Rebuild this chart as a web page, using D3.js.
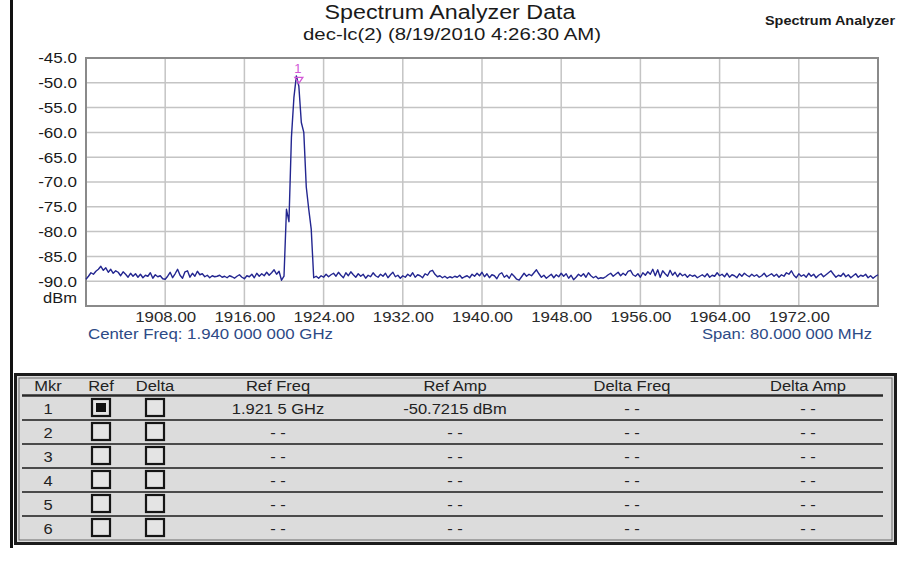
<!DOCTYPE html>
<html><head><meta charset="utf-8">
<script src="https://cdn.jsdelivr.net/npm/d3@7"></script>
<style>body{margin:0;background:#fff}svg{display:block;font-family:"Liberation Sans",Arial,sans-serif}</style>
</head><body><svg id="c" width="900" height="573"></svg>
<script>
// ---------- data ----------
const titleText = "Spectrum Analyzer Data";
const subtitleText = "dec-lc(2) (8/19/2010 4:26:30 AM)";
const cornerText = "Spectrum Analyzer";
const centerText = "Center Freq: 1.940 000 000 GHz";
const spanText = "Span: 80.000 000 MHz";
const unitText = "dBm";
const freqDomain = [1900, 1980];
const ampDomain = [-95, -45];
const freqStart = 1900, freqStep = 0.25;
const xTicks = [1908, 1916, 1924, 1932, 1940, 1948, 1956, 1964, 1972];
const yTicks = [-45, -50, -55, -60, -65, -70, -75, -80, -85, -90];
const amplitudes = [
 -89.6,-89.0,-88.3,-88.6,-88.0,-87.6,-87.0,-87.8,-87.3,-88.2,
 -87.6,-88.4,-87.9,-88.2,-88.9,-88.1,-88.6,-89.2,-88.4,-89.0,
 -88.5,-89.2,-88.6,-89.3,-88.8,-89.0,-88.3,-89.4,-88.7,-89.1,
 -88.9,-89.5,-89.6,-89.0,-88.2,-89.3,-88.5,-87.6,-88.8,-89.4,
 -88.1,-87.9,-89.2,-88.4,-89.0,-88.0,-88.7,-88.5,-89.1,-88.8,
 -89.3,-88.9,-89.1,-89.0,-88.8,-89.2,-89.0,-89.3,-88.9,-89.1,
 -89.4,-89.0,-88.7,-89.2,-89.5,-88.9,-89.1,-88.6,-89.3,-88.4,
 -89.0,-88.5,-88.9,-88.2,-88.8,-88.3,-87.7,-88.6,-88.0,-89.8,
 -89.0,-75.5,-78.0,-61.0,-53.0,-48.6,-50.7,-58.0,-60.0,-71.0,
 -75.5,-79.5,-89.3,-89.0,-89.4,-88.9,-89.2,-88.6,-89.1,-88.7,
 -88.4,-89.0,-88.2,-88.8,-89.3,-88.3,-88.9,-88.1,-88.7,-89.2,
 -88.5,-89.0,-88.6,-89.4,-88.8,-89.1,-88.3,-88.9,-89.2,-88.6,
 -89.0,-88.4,-89.3,-88.7,-88.2,-89.1,-88.8,-89.4,-88.9,-89.2,
 -88.6,-89.0,-88.3,-89.2,-88.7,-88.9,-89.3,-88.5,-88.8,-88.0,
 -87.8,-88.6,-89.1,-88.9,-89.3,-89.0,-89.4,-89.1,-89.3,-89.0,
 -89.2,-88.8,-89.4,-89.1,-88.9,-89.3,-88.6,-89.0,-88.4,-88.9,
 -88.2,-89.1,-88.5,-89.3,-88.7,-88.9,-89.5,-88.6,-88.3,-89.2,
 -88.8,-89.4,-88.5,-89.0,-89.6,-89.8,-89.1,-88.4,-89.0,-88.6,
 -88.9,-88.3,-87.7,-88.5,-89.2,-88.8,-89.4,-89.0,-88.6,-89.3,
 -88.7,-89.1,-88.4,-89.0,-88.5,-89.4,-88.8,-89.7,-89.2,-88.6,
 -89.0,-88.5,-89.2,-88.3,-88.9,-89.3,-89.0,-89.5,-89.3,-89.4,
 -89.1,-88.7,-88.4,-89.0,-88.6,-88.2,-88.9,-88.4,-88.8,-88.0,
 -87.8,-88.7,-89.0,-88.5,-89.2,-88.3,-88.8,-88.1,-88.6,-87.6,
 -88.9,-87.7,-89.2,-87.9,-88.5,-89.0,-87.8,-88.8,-88.2,-89.1,
 -88.4,-88.9,-88.6,-89.2,-88.7,-89.0,-88.8,-89.3,-89.0,-88.7,
 -89.1,-88.5,-89.2,-88.8,-89.0,-88.3,-88.9,-88.6,-89.1,-88.4,
 -89.2,-88.7,-88.9,-89.3,-88.5,-89.0,-88.4,-88.8,-89.1,-88.6,
 -89.0,-88.7,-89.2,-88.9,-88.4,-89.1,-88.8,-88.5,-89.0,-88.6,
 -89.2,-88.7,-89.0,-88.3,-88.6,-87.9,-88.8,-89.3,-88.5,-89.0,
 -88.7,-89.2,-88.4,-89.0,-88.6,-89.3,-88.8,-88.5,-89.1,-88.7,
 -88.3,-87.9,-88.6,-89.2,-88.8,-89.0,-88.4,-89.1,-88.7,-89.3,
 -88.9,-88.5,-89.2,-88.8,-89.0,-88.6,-89.3,-88.9,-89.4,-89.0,
 -88.7
];
const markerLabel = "1";
const markerFreq = 1921.5, markerAmp = -50.7215;
const tableHeaders = ["Mkr", "Ref", "Delta", "Ref Freq", "Ref Amp", "Delta Freq", "Delta Amp"];
const markerIds = ["1", "2", "3", "4", "5", "6"];
const refChecked = [true, false, false, false, false, false];
const deltaChecked = [false, false, false, false, false, false];
const refFreqs = ["1.921 5 GHz", "- -", "- -", "- -", "- -", "- -"];
const refAmps = ["-50.7215 dBm", "- -", "- -", "- -", "- -", "- -"];
const deltaFreqs = ["- -", "- -", "- -", "- -", "- -", "- -"];
const deltaAmps = ["- -", "- -", "- -", "- -", "- -", "- -"];

// ---------- drawing ----------
const svg = d3.select("#c");
const SX = 1.1; // horizontal stretch of the original screenshot
function stext(g, str, x, yy, opts) {
  const t = g.append("text")
    .attr("transform", `translate(${x},${yy}) scale(${opts.sx || SX},1)`)
    .attr("text-anchor", opts.anchor || "middle")
    .attr("font-size", opts.size || 15)
    .attr("fill", opts.fill || "#222")
    .text(str);
  if (opts.weight) t.attr("font-weight", opts.weight);
  if (opts.len) t.attr("textLength", opts.len / (opts.sx || SX)).attr("lengthAdjust", "spacingAndGlyphs");
  return t;
}

// window left border
svg.append("rect").attr("x", 10).attr("y", 0).attr("width", 3).attr("height", 548).attr("fill", "#111");

// titles
stext(svg, titleText, 450, 19, {size: 21, fill: "#1a1a1a", len: 251});
stext(svg, subtitleText, 452, 40, {size: 17, fill: "#1a1a1a", len: 298});
stext(svg, cornerText, 830, 25, {size: 12, fill: "#1a1a1a", len: 130, weight: "bold", sx: 1});

const x = d3.scaleLinear().domain(freqDomain).range([86, 878]);
const y = d3.scaleLinear().domain(ampDomain).range([306, 58]);

const plot = svg.append("g");
plot.append("rect").attr("x", 86).attr("y", 58).attr("width", 792).attr("height", 248).attr("fill", "#fff");
// grid
plot.selectAll("line.h").data(yTicks).join("line")
  .attr("x1", 86).attr("x2", 878).attr("y1", d => y(d)).attr("y2", d => y(d))
  .attr("stroke", "#c4c4c4").attr("stroke-width", 1.5);
plot.selectAll("line.v").data(xTicks).join("line")
  .attr("y1", 58).attr("y2", 306).attr("x1", d => x(d)).attr("x2", d => x(d))
  .attr("stroke", "#c4c4c4").attr("stroke-width", 1.5);
plot.append("rect").attr("x", 86).attr("y", 58).attr("width", 792).attr("height", 248)
  .attr("fill", "none").attr("stroke", "#8a8a8a").attr("stroke-width", 2);

// axes
const yAxis = svg.append("g").attr("transform", "translate(86,0)")
  .call(d3.axisLeft(y).tickValues(yTicks).tickFormat(d => d.toFixed(1)).tickSize(0).tickPadding(9));
yAxis.select(".domain").remove();
yAxis.selectAll("text").attr("font-size", 15.5).attr("fill", "#1a1a1a")
  .attr("font-family", '"Liberation Sans",Arial,sans-serif')
  .attr("transform", `scale(${SX},1)`).attr("x", -9 / SX);
stext(svg, unitText, 77, 303, {size: 15, anchor: "end", fill: "#1a1a1a"});

const xAxis = svg.append("g").attr("transform", "translate(0,306)")
  .call(d3.axisBottom(x).tickValues(xTicks).tickFormat(d => d.toFixed(2)).tickSize(0).tickPadding(6));
xAxis.select(".domain").remove();
xAxis.selectAll("text").attr("font-size", 14.5).attr("fill", "#2a2a2a")
  .attr("font-family", '"Liberation Sans",Arial,sans-serif')
  .attr("transform", `scale(${SX},1)`)
  .attr("textLength", 61 / SX).attr("lengthAdjust", "spacingAndGlyphs");

stext(svg, centerText, 88, 339, {size: 14.5, anchor: "start", fill: "#2d4a86", len: 245});
stext(svg, spanText, 872, 339, {size: 14.5, anchor: "end", fill: "#2d4a86", len: 170});

// trace
const line = d3.line()
  .x((d, i) => x(freqStart + i * freqStep))
  .y(d => y(d));
plot.append("path").datum(amplitudes).attr("d", line)
  .attr("fill", "none").attr("stroke", "#232690").attr("stroke-width", 1.4).attr("stroke-linejoin", "round");

// marker
const mx = x(markerFreq), my = y(markerAmp);
plot.append("path").attr("d", `M${mx - 4},${my - 9} L${mx + 4},${my - 9} L${mx},${my - 3} Z`)
  .attr("fill", "none").attr("stroke", "#d257d6").attr("stroke-width", 1.3);
plot.append("text").attr("x", mx - 1).attr("y", my - 13).attr("text-anchor", "middle")
  .attr("font-size", 13).attr("fill", "#d257d6").text(markerLabel);

// ---------- table ----------
const tbl = svg.append("g");
tbl.append("rect").attr("x", 15.5).attr("y", 374.5).attr("width", 880).attr("height", 169)
  .attr("fill", "#dcdcdc").attr("stroke", "#1c1c1c").attr("stroke-width", 3);
tbl.append("rect").attr("x", 19).attr("y", 378).attr("width", 873).attr("height", 162)
  .attr("fill", "none").attr("stroke", "#6a6a6a").attr("stroke-width", 1);
const colX = [48, 101, 155, 278, 455, 632, 808];
tableHeaders.forEach((h, j) => stext(tbl, h, colX[j], 391, {size: 15, fill: "#222"}));
tbl.append("line").attr("x1", 22).attr("x2", 883).attr("y1", 395.5).attr("y2", 395.5)
  .attr("stroke", "#2a2a2a").attr("stroke-width", 2.5);
const rowH = 24, row0 = 396;
markerIds.forEach((id, i) => {
  const cy = row0 + rowH * i + rowH / 2;
  if (i < markerIds.length - 1) {
    tbl.append("line").attr("x1", 22).attr("x2", 883).attr("y1", row0 + rowH * (i + 1)).attr("y2", row0 + rowH * (i + 1))
      .attr("stroke", "#4a4a4a").attr("stroke-width", 2);
  }
  stext(tbl, id, colX[0], cy + 5.5, {size: 15});
  [[colX[1], refChecked[i]], [colX[2], deltaChecked[i]]].forEach(([cx, on]) => {
    tbl.append("rect").attr("x", cx - 9).attr("y", cy - 9).attr("width", 18).attr("height", 17)
      .attr("fill", "#e4e4e4").attr("stroke", "#151515").attr("stroke-width", 2.2);
    if (on) tbl.append("rect").attr("x", cx - 5).attr("y", cy - 5).attr("width", 10).attr("height", 9).attr("fill", "#111");
  });
  stext(tbl, refFreqs[i], colX[3], cy + 5.5, {size: 15});
  stext(tbl, refAmps[i], colX[4], cy + 5.5, {size: 15});
  stext(tbl, deltaFreqs[i], colX[5], cy + 5.5, {size: 15});
  stext(tbl, deltaAmps[i], colX[6], cy + 5.5, {size: 15});
});
</script></body></html>
